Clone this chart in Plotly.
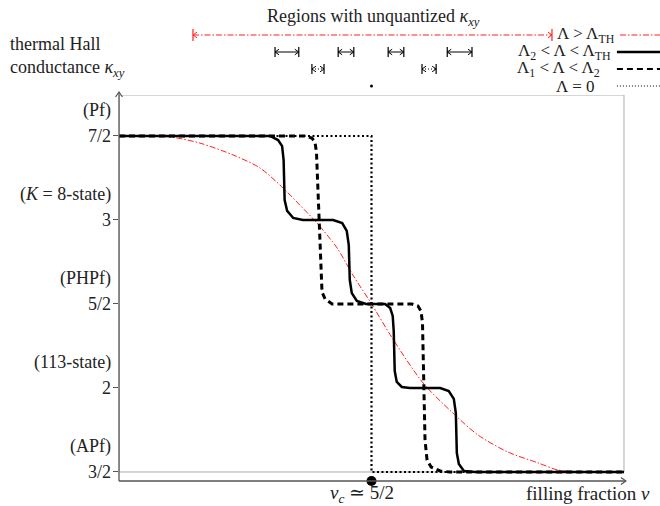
import plotly.graph_objects as go

# ---------------- data ----------------
kappa_ticks = [1.5, 2.0, 2.5, 3.0, 3.5]
kappa_tick_labels = ["3/2", "2", "5/2", "3", "7/2"]
phase_names = ["(APf)", "(113-state)", "(PHPf)", "(<i>K</i> = 8-state)", "(Pf)"]

nu_c = 5.0
nu_end = 10.0

# Λ = 0 (dotted)
lam0_nu = [0.0, 5.0, 5.0, 10.0]
lam0_kappa = [3.5, 3.5, 1.5, 1.5]

# Λ1 < Λ < Λ2 (dashed)
lam12_nu = [0.0, 3.68, 3.82, 3.88, 3.91, 3.96, 4.00, 4.02, 4.08, 4.22,
            5.80, 5.92, 5.98, 6.01, 6.06, 6.10, 6.18, 6.36, 6.55, 10.0]
lam12_kappa = [3.5, 3.5, 3.488, 3.464, 3.405, 3.0, 2.643, 2.571, 2.530, 2.5,
               2.5, 2.488, 2.458, 2.387, 1.690, 1.571, 1.530, 1.506, 1.5, 1.5]

# Λ2 < Λ < ΛTH (solid)
lam2th_nu = [0.0, 2.99, 3.15, 3.23, 3.26, 3.28, 3.33, 3.45, 3.64,
             4.24, 4.42, 4.51, 4.55, 4.57, 4.61, 4.71, 4.89,
             5.27, 5.37, 5.42, 5.44, 5.46, 5.50, 5.60, 5.76,
             6.36, 6.53, 6.63, 6.67, 6.69, 6.73, 6.83, 7.05, 10.0]
lam2th_kappa = [3.5, 3.5, 3.476, 3.440, 3.357, 3.119, 3.054, 3.012, 3.0,
                3.0, 2.982, 2.935, 2.851, 2.643, 2.565, 2.518, 2.5,
                2.5, 2.476, 2.429, 2.339, 2.101, 2.036, 2.006, 2.0,
                2.0, 1.982, 1.935, 1.851, 1.613, 1.548, 1.506, 1.5, 1.5]

# Λ > ΛTH (red dash-dot)
lamth_nu = [0.0, 1.01, 1.60, 2.26, 2.79, 3.25, 3.58, 3.92, 4.32, 4.63, 4.99,
            5.41, 6.02, 6.59, 7.11, 7.70, 8.30, 8.69, 9.33, 10.0]
lamth_kappa = [3.5, 3.494, 3.458, 3.387, 3.31, 3.19, 3.089, 2.982, 2.833, 2.673, 2.506,
               2.298, 2.030, 1.857, 1.720, 1.619, 1.554, 1.512, 1.5, 1.5]

# regions with unquantized kappa_xy (header)
red_region = [1.465, 8.574]
solid_regions = [(3.09, 3.56), (4.34, 4.65), (5.33, 5.64), (6.50, 6.99)]
dashed_regions = [(3.82, 4.06), (6.00, 6.28)]

legend_labels = ["Λ = 0",
                 "Λ<sub>1</sub> < Λ < Λ<sub>2</sub>",
                 "Λ<sub>2</sub> < Λ < Λ<sub>TH</sub>",
                 "Λ > Λ<sub>TH</sub>"]

# ---------------- figure ----------------
FONT = "Liberation Serif, DejaVu Serif, serif"
TXT = "#222222"
RED = "#ff2020"
AX_COL = "#555555"
FS = 18
X_RANGE = [0, 10.713]
Y_RANGE = [1.4464, 3.744]
Y2_RANGE = [-0.529, 5.059]
DASHDOT = "6px,2px,1.5px,2px"

fig = go.Figure()

# main curves
fig.add_trace(go.Scatter(x=lamth_nu, y=lamth_kappa, mode="lines", line_shape="spline",
                         line=dict(color=RED, width=1, dash=DASHDOT, smoothing=0.8),
                         hoverinfo="skip"))
fig.add_trace(go.Scatter(x=lam0_nu, y=lam0_kappa, mode="lines",
                         line=dict(color="black", width=2.2, dash="2px,2.5px"), hoverinfo="skip"))
fig.add_trace(go.Scatter(x=lam12_nu, y=lam12_kappa, mode="lines",
                         line=dict(color="black", width=3, dash="6px,4px"), hoverinfo="skip"))
fig.add_trace(go.Scatter(x=lam2th_nu, y=lam2th_kappa, mode="lines",
                         line=dict(color="black", width=2.5), hoverinfo="skip"))

# critical point marker
fig.add_trace(go.Scatter(x=[nu_c], y=[Y_RANGE[0]], mode="markers", cliponaxis=False,
                         marker=dict(color="black", size=10), hoverinfo="skip"))

annotations = []
shapes = []

# gray frame
shapes.append(dict(type="rect", xref="x", yref="y", x0=0, x1=nu_end, y0=1.5, y1=Y_RANGE[1],
                   line=dict(color="#aaaaaa", width=1), layer="below"))

# axes with arrows (paper coordinates: not clipped)
Y_TOP = 0.8087
X_TIP = 0.937
shapes.append(dict(type="line", xref="paper", yref="paper", x0=0, x1=0, y0=0, y1=Y_TOP,
                   line=dict(color=AX_COL, width=1.3)))
shapes.append(dict(type="line", xref="paper", yref="paper", x0=0, x1=X_TIP, y0=0, y1=0,
                   line=dict(color=AX_COL, width=1.3)))
shapes.append(dict(type="path", xref="paper", yref="paper", xsizemode="pixel", ysizemode="pixel",
                   xanchor=0, yanchor=Y_TOP, path="M-3.5,-5 L0,0 L3.5,-5",
                   line=dict(color=AX_COL, width=1.2)))
shapes.append(dict(type="path", xref="paper", yref="paper", xsizemode="pixel", ysizemode="pixel",
                   xanchor=X_TIP, yanchor=0, path="M-5,-3.5 L0,0 L-5,3.5",
                   line=dict(color=AX_COL, width=1.2)))

# tick labels + phase names
for v, lab, name in zip(kappa_ticks, kappa_tick_labels, phase_names):
    annotations.append(dict(xref="x", yref="y", x=0, y=v, xanchor="right", yanchor="middle",
                            xshift=-6, text=lab, showarrow=False, font=dict(size=FS, color=TXT)))
    annotations.append(dict(xref="x", yref="y", x=0, y=v, xanchor="right", yanchor="middle",
                            xshift=-6, yshift=25, text=name, showarrow=False, font=dict(size=FS, color=TXT)))

# axis texts
annotations.append(dict(xref="paper", yref="paper", x=-0.205, y=0.8815, xanchor="left", yanchor="middle",
                        align="left", showarrow=False, font=dict(size=FS, color=TXT),
                        text="thermal Hall<br>conductance <i>κ</i><sub><i>xy</i></sub>"))
annotations.append(dict(xref="paper", yref="paper", x=0.449, y=-0.028, xanchor="center", yanchor="middle",
                        showarrow=False, font=dict(size=19, color=TXT),
                        text="<i>ν</i><sub><i>c</i></sub> ≃ 5/2"))
annotations.append(dict(xref="paper", yref="paper", x=0.867, y=-0.027, xanchor="center", yanchor="middle",
                        showarrow=False, font=dict(size=19, color=TXT), text="filling fraction <i>ν</i>"))
annotations.append(dict(xref="paper", yref="y2", x=0.471, y=4.02, xanchor="center", yanchor="middle",
                        showarrow=False, font=dict(size=FS, color=TXT),
                        text="Regions with unquantized <i>κ</i><sub><i>xy</i></sub>"))


def add_interval(x0, x1, row, color, dash, bar=5):
    fig.add_trace(go.Scatter(x=[x0, x1], y=[row, row], yaxis="y2", mode="lines",
                             line=dict(color=color, width=1, dash=dash), hoverinfo="skip"))
    for xe, sgn in ((x0, 1), (x1, -1)):
        shapes.append(dict(type="path", xref="x", yref="y2", xsizemode="pixel", ysizemode="pixel",
                           xanchor=xe, yanchor=row, path=f"M0,-{bar} L0,{bar}",
                           line=dict(color=color, width=1.2)))
        shapes.append(dict(type="path", xref="x", yref="y2", xsizemode="pixel", ysizemode="pixel",
                           xanchor=xe, yanchor=row,
                           path=f"M{4 * sgn},-2.8 L0,0 L{4 * sgn},2.8",
                           line=dict(color=color, width=1)))


# header rows: 3 red, 2 solid, 1 dashed, 0 dotted
add_interval(red_region[0], red_region[1], 3, RED, DASHDOT, bar=6)
for a, b in solid_regions:
    add_interval(a, b, 2, "black", "solid")
for a, b in dashed_regions:
    add_interval(a, b, 1, "black", "1px,2px")
fig.add_trace(go.Scatter(x=[nu_c], y=[0], yaxis="y2", mode="markers",
                         marker=dict(color="black", size=3), hoverinfo="skip"))

# legend samples
LEG_X = [9.86, 10.713]
fig.add_trace(go.Scatter(x=[9.92, 10.713], y=[3, 3], yaxis="y2", mode="lines", cliponaxis=False,
                         line=dict(color=RED, width=1, dash=DASHDOT), hoverinfo="skip"))
fig.add_trace(go.Scatter(x=LEG_X, y=[2, 2], yaxis="y2", mode="lines", cliponaxis=False,
                         line=dict(color="black", width=2.5), hoverinfo="skip"))
fig.add_trace(go.Scatter(x=LEG_X, y=[1, 1], yaxis="y2", mode="lines", cliponaxis=False,
                         line=dict(color="black", width=2, dash="6px,4px"), hoverinfo="skip"))
fig.add_trace(go.Scatter(x=LEG_X, y=[0, 0], yaxis="y2", mode="lines", cliponaxis=False,
                         line=dict(color="black", width=1, dash="1px,2px"), hoverinfo="skip"))

leg_x = [0.843, 0.813, 0.824, 0.863]
for r, (lab, lx) in enumerate(zip(legend_labels, leg_x)):
    annotations.append(dict(xref="paper", yref="y2", x=lx, y=r, xanchor="center", yanchor="middle",
                            showarrow=False, font=dict(size=17, color=TXT), text=lab))

fig.update_layout(
    width=660, height=506,
    margin=dict(l=119, r=0, t=0, b=25),
    paper_bgcolor="white", plot_bgcolor="white",
    showlegend=False,
    hovermode=False,
    font=dict(family=FONT, color=TXT),
    xaxis=dict(range=X_RANGE, visible=False, fixedrange=True),
    yaxis=dict(domain=[0, 0.8025], range=Y_RANGE, showgrid=False, zeroline=False, showline=False,
               tickvals=kappa_ticks, ticks="outside", ticklen=5, tickwidth=1.2, tickcolor=AX_COL,
               showticklabels=False, fixedrange=True),
    yaxis2=dict(domain=[0.8025, 1], range=Y2_RANGE, anchor="x", visible=False, fixedrange=True),
    shapes=shapes,
    annotations=annotations,
)

fig.write_html("out.html", config={"displayModeBar": False},
               post_script="document.body.style.margin='0px';")
